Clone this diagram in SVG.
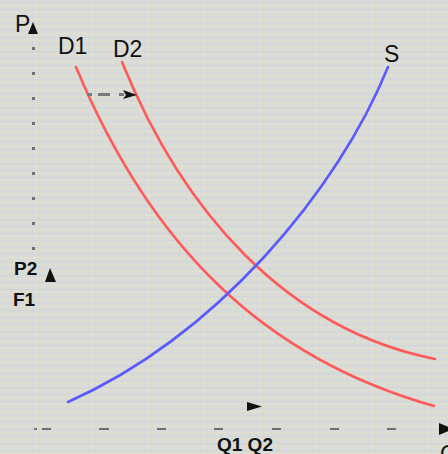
<svg xmlns="http://www.w3.org/2000/svg" width="448" height="454" viewBox="0 0 448 454">
<style>
.lbl{font-family:"Liberation Sans",Arial,sans-serif;fill:#111}
.big{font-size:23px}
.bold{font-size:19px;font-weight:bold}
.demand{fill:none;stroke:#ff5a5a;stroke-width:2.6;stroke-linecap:round}
.supply{fill:none;stroke:#5a5aff;stroke-width:2.6;stroke-linecap:round}
.tick{fill:#6e6e6e}
.dash{fill:#7a7a7a}
.head{fill:#111}
</style>
<defs>
<pattern id="bg" width="7" height="7" patternUnits="userSpaceOnUse">
<rect width="7" height="7" fill="#dbdcd4"/>
<rect x="0" y="2" width="7" height="1" fill="#d0d6dc"/>
<rect x="4" y="0" width="1" height="7" fill="#d2d7de"/>
<rect x="0" y="5" width="7" height="1" fill="#e0dfd2"/>
</pattern>
</defs>
<rect width="448" height="454" fill="url(#bg)"/>

<g id="axes">
<g id="y-axis">
<rect class="tick" x="32" y="47" width="3" height="3"/>
<rect class="tick" x="32" y="72" width="3" height="3"/>
<rect class="tick" x="32" y="97" width="3" height="3"/>
<rect class="tick" x="32" y="122" width="3" height="3"/>
<rect class="tick" x="32" y="147" width="3" height="3"/>
<rect class="tick" x="32" y="172" width="3" height="3"/>
<rect class="tick" x="32" y="197" width="3" height="3"/>
<rect class="tick" x="32" y="222" width="3" height="3"/>
<rect class="tick" x="32" y="247" width="3" height="3"/>
<polygon class="head" points="33,22 28,34 38,34"/>
</g>
<g id="x-axis">
<rect class="tick" x="34" y="428" width="3" height="2"/>
<rect class="tick" x="42" y="428" width="9" height="2"/>
<rect class="tick" x="99" y="428" width="10" height="2"/>
<rect class="tick" x="157" y="428" width="9" height="2"/>
<rect class="tick" x="214" y="428" width="9" height="2"/>
<rect class="tick" x="272" y="428" width="9" height="2"/>
<rect class="tick" x="330" y="428" width="9" height="2"/>
<rect class="tick" x="387" y="428" width="9" height="2"/>
<polygon class="head" points="439,423 453,429 439,435"/>
</g>
</g>

<g id="connectors">
<path id="D1-curve" class="demand" d="M76,67 C151,247 264,358 434,406"/>
<path id="D2-curve" class="demand" d="M122,62 C182,210 285,329 435,359"/>
<path id="S-curve" class="supply" d="M68,402 C218,335 338,190 388,67"/>
<g id="shift-arrow">
<rect class="dash" x="87" y="93" width="5" height="3"/>
<rect class="dash" x="98" y="93" width="12" height="3"/>
<rect class="dash" x="119" y="93" width="5" height="3"/>
<polygon class="head" points="123,90 137,95 123,99 126,95"/>
</g>
<polygon id="p-up" class="head" points="50,268 45,282 56,282"/>
<polygon id="q-right" class="head" points="247,402 262,406.5 247,411"/>
</g>

<g id="labels">
<text class="lbl big" x="15" y="32">P</text>
<g id="D1"><text class="lbl big" x="58" y="54">D1</text></g>
<g id="D2"><text class="lbl big" x="113" y="57">D2</text></g>
<g id="S"><text class="lbl big" x="384" y="62">S</text></g>
<text class="lbl bold" x="14" y="275">P2</text>
<text class="lbl bold" x="13" y="306">F1</text>
<text class="lbl bold" x="217" y="451">Q1 Q2</text>
<text class="lbl big" x="440" y="462">Q</text>
</g>
</svg>
